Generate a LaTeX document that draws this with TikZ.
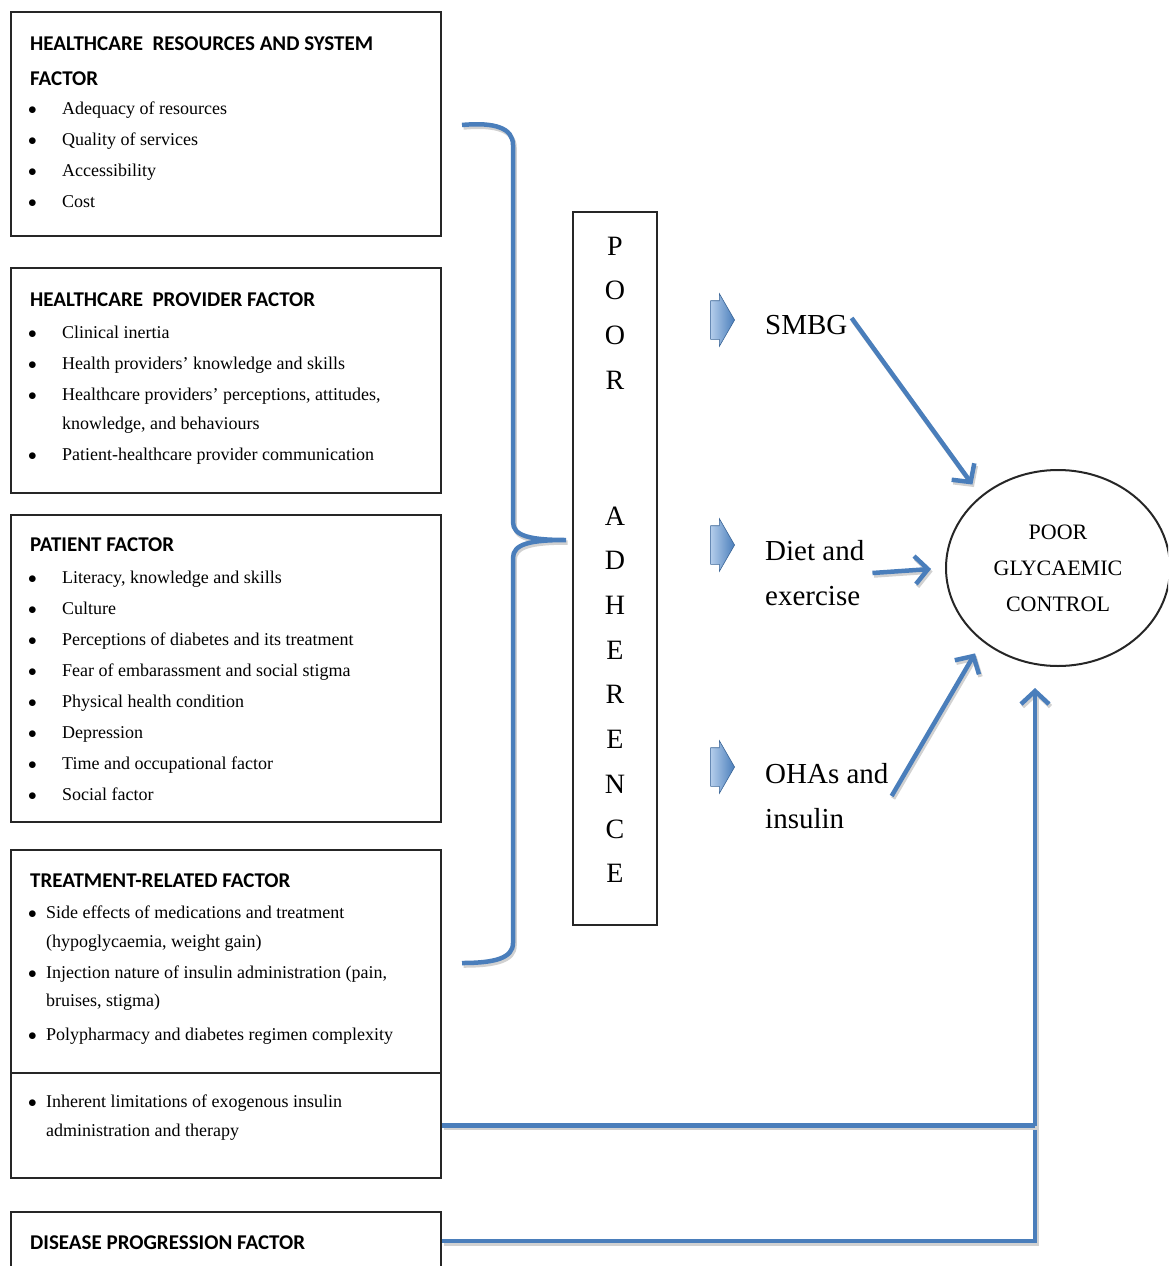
\documentclass[tikz,border=0pt]{standalone}
\usepackage{fontspec}
\setmainfont{Liberation Serif}
\newfontfamily\headfont{Carlito}
\usetikzlibrary{shapes.geometric,shapes.arrows,arrows.meta}
\definecolor{arrowblue}{HTML}{4A7EBB}
\definecolor{paleblue}{HTML}{B4CDEB}
\newcommand{\bul}[2]{\makebox[#1][l]{$\bullet$}#2}
\tikzset{
% boxes and texts of the factor column
factor box/.style={draw=black!85,line width=2pt,minimum width=430pt,inner sep=0},
head text/.style={anchor=west,inner sep=0,text height=13.5pt,text depth=0pt,font=\headfont\bfseries\fontsize{21}{24}\selectfont},
item text/.style={anchor=west,inner sep=0,text height=13pt,text depth=4pt,font=\fontsize{18}{21}\selectfont},
% blue connectors and block arrows
blue line/.style={draw=arrowblue,line width=4.5pt,preaction={draw=black!18,line width=4.5pt,transform canvas={xshift=1.5pt,yshift=-2.5pt}}},
blue arrow/.style={blue line,-{Straight Barb[length=13pt,width=28pt]},shorten >=14pt},
block arrow/.style={single arrow,minimum height=24pt,inner xsep=0pt,inner ysep=19pt,single arrow head extend=7pt,single arrow tip angle=120,left color=paleblue,right color=arrowblue,draw=arrowblue!80!black,line width=0.6pt},
outcome/.style={anchor=west,align=left,inner sep=0,font=\fontsize{29}{45}\selectfont},
letter/.style={inner sep=0,font=\fontsize{28}{30}\selectfont}
}

\begin{document}
\begin{tikzpicture}[x=1pt,y=-1pt]
\useasboundingbox (0,0) rectangle (1168,1266);
\clip (0,0) rectangle (1168,1266);

% factor boxes
\node[factor box,minimum height=224pt] (hrs) at (226,124) {};
\node[factor box,minimum height=225pt] (hpf) at (226,380.5) {};
\node[factor box,minimum height=307pt] (pf) at (226,668.5) {};
\node[factor box,minimum height=223pt] (trf) at (226,961.5) {};
\node[factor box,minimum height=105pt] (ins) at (226,1125.5) {};
\node[factor box,minimum height=58pt] (dpf) at (226,1241) {};

% healthcare resources and system
\node[head text] (hrs1) at (30,44) {HEALTHCARE\ \ RESOURCES AND SYSTEM};
\node[head text] (hrs2) at (30,79) {FACTOR};
\node[item text] (hrsa) at (28,110) {\bul{34pt}{Adequacy of resources}};
\node[item text] (hrsb) at (28,141) {\bul{34pt}{Quality of services}};
\node[item text] (hrsc) at (28,172) {\bul{34pt}{Accessibility}};
\node[item text] (hrsd) at (28,203) {\bul{34pt}{Cost}};

% healthcare provider
\node[head text] (hpf1) at (30,300) {HEALTHCARE\ \ PROVIDER FACTOR};
\node[item text] (hpfa) at (28,334) {\bul{34pt}{Clinical inertia}};
\node[item text] (hpfb) at (28,365) {\bul{34pt}{Health providers' knowledge and skills}};
\node[item text] (hpfc) at (28,396) {\bul{34pt}{Healthcare providers' perceptions, attitudes,}};
\node[item text] (hpfc2) at (62,425) {knowledge, and behaviours};
\node[item text] (hpfd) at (28,456) {\bul{34pt}{Patient-healthcare provider communication}};

% patient
\node[head text] (pf1) at (30,545) {PATIENT FACTOR};
\node[item text] (pfa) at (28,579) {\bul{34pt}{Literacy, knowledge and skills}};
\node[item text] (pfb) at (28,610) {\bul{34pt}{Culture}};
\node[item text] (pfc) at (28,641) {\bul{34pt}{Perceptions of diabetes and its treatment}};
\node[item text] (pfd) at (28,672) {\bul{34pt}{Fear of embarassment and social stigma}};
\node[item text] (pfe) at (28,703) {\bul{34pt}{Physical health condition}};
\node[item text] (pff) at (28,734) {\bul{34pt}{Depression}};
\node[item text] (pfg) at (28,765) {\bul{34pt}{Time and occupational factor}};
\node[item text] (pfh) at (28,796) {\bul{34pt}{Social factor}};

% treatment-related
\node[head text] (trf1) at (30,881) {TREATMENT-RELATED FACTOR};
\node[item text] (trfa) at (28,914) {\bul{18pt}{Side effects of medications and treatment}};
\node[item text] (trfa2) at (46,943) {(hypoglycaemia, weight gain)};
\node[item text] (trfb) at (28,974) {\bul{18pt}{Injection nature of insulin administration (pain,}};
\node[item text] (trfb2) at (46,1002) {bruises, stigma)};
\node[item text] (trfc) at (28,1036) {\bul{18pt}{Polypharmacy and diabetes regimen complexity}};
\node[item text] (insa) at (28,1103) {\bul{18pt}{Inherent limitations of exogenous insulin}};
\node[item text] (insa2) at (46,1132) {administration and therapy};

% disease progression
\node[head text] (dpf1) at (30,1243) {DISEASE PROGRESSION FACTOR};

% brace
\draw[blue line] (462,125) .. controls (495,122) and (513,128) .. (513,145) -- (513,522)
  .. controls (513,536) and (530,540) .. (566,540)
  .. controls (530,540) and (513,544) .. (513,558) -- (513,943)
  .. controls (513,958) and (495,963) .. (462,963);

% poor adherence
\node[draw=black!85,line width=2pt,minimum width=84pt,minimum height=713pt,inner sep=0] (adh) at (615,568.5) {};
\foreach \l [count=\i] in {P,O,O,R}
  \node[letter] (adh\i) at (615,246+44.7*\i-44.7) {\l};
\foreach \l [count=\i] in {A,D,H,E,R,E,N,C,E}
  \node[letter] (adhb\i) at (615,516+44.7*\i-44.7) {\l};

% outcomes
\node[block arrow] (ba1) at (717,320) {};
\node[block arrow] (ba2) at (717,545) {};
\node[block arrow] (ba3) at (717,767) {};
\node[outcome] (smbg) at (765,325) {SMBG};
\node[outcome] (diet) at (765,573) {Diet and\\exercise};
\node[outcome] (ohas) at (765,796) {OHAs and\\insulin};

\node[draw=black!85,line width=2pt,ellipse,minimum width=224pt,minimum height=196pt,align=center,font=\fontsize{22}{36}\selectfont] (pgc) at (1058,568) {POOR\\GLYCAEMIC\\CONTROL};

\draw[blue arrow] ([xshift=4pt,yshift=7pt]smbg.east) -- (pgc.137);
\draw[blue arrow] ([xshift=8pt]diet.east) -- (pgc.west);
\draw[blue arrow] ([xshift=3pt]ohas.east) -- (pgc.224);

\coordinate (vtip) at (1035,688);
\draw[blue arrow,shorten >=0pt] (dpf.east) -| (vtip);
\draw[blue line] (ins.east) -- (ins.east -| vtip);
\end{tikzpicture}
\end{document}
